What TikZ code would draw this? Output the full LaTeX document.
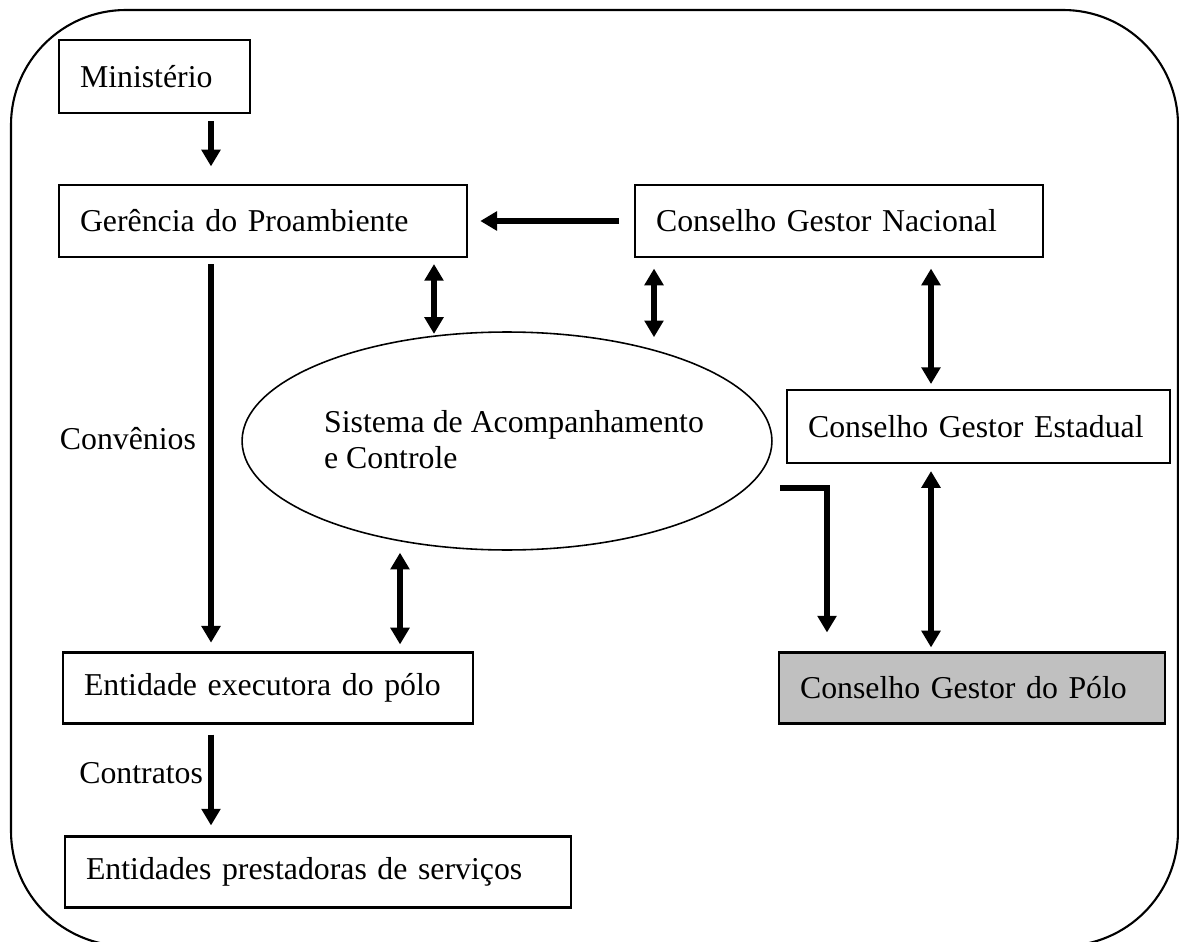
\documentclass[tikz,border=0pt]{standalone}
\usepackage{fontspec}
\setmainfont{Liberation Serif}
\usepackage{xcolor}
\usetikzlibrary{arrows.meta,calc,positioning,shapes}
\definecolor{poloGray}{RGB}{192,192,192}

\begin{document}
\begin{tikzpicture}[x=0.02cm,y=-0.02cm,font=\fontsize{18.1}{20.5}\selectfont]

\tikzset{box/.style = {shape=rectangle,draw,line width=1.2pt,align=left,inner xsep=0.42cm,inner ysep=0pt}}
\tikzset{sisbox/.style = {shape=ellipse,draw,line width=0.9pt,minimum width=10.6cm,minimum height=4.36cm}}
\tikzset{edge/.style = {-{Triangle[width=10.5pt,length=9.5pt]},line width=3.1pt}}
\tikzset{both/.style = {{Triangle[width=10.5pt,length=9.5pt]}-{Triangle[width=10.5pt,length=9.5pt]},line width=3.1pt}}

\useasboundingbox (0,0) rectangle (1179,942);
\clip (0,0) rectangle (1179,942);

% frame
\draw[line width=1.2pt,rounded corners=2.3cm] (11,10) rectangle (1178,946);

% boxes
\node[box,text width=2.98cm,minimum height=1.46cm] (min) at (154.5,76.5) {Ministério};
\node[box,text width=7.32cm,minimum height=1.44cm] (ger) at (263,221) {Gerência do Proambiente};
\node[box,text width=7.32cm,minimum height=1.44cm] (nac) at (839,221) {Conselho Gestor Nacional};
\node[box,text width=6.82cm,minimum height=1.46cm] (est) at (978.5,426.5) {Conselho Gestor Estadual};
\node[box,text width=6.88cm,minimum height=1.42cm,fill=poloGray] (polo) at (972,688) {Conselho Gestor do Pólo};
\node[box,text width=7.36cm,minimum height=1.42cm] (ent) at (268,688) {Entidade executora do pólo};
\node[box,text width=9.28cm,minimum height=1.42cm] (prest) at (318,872) {Entidades prestadoras de serviços};

% sistema
\node[sisbox] (sis) at (507,441) {};
\node[align=left] (sistxt) at (514,440) {Sistema de Acompanhamento\\e Controle};

% arrow columns
\coordinate (xa) at (211,0);
\coordinate (xb) at (434,0);
\coordinate (xc) at (654,0);
\coordinate (xd) at (931,0);
\coordinate (xe) at (400,0);
\coordinate (xf) at (827,0);
\coordinate (sisout) at (780,488);

%edges
\draw[edge,shorten <=4pt,shorten >=10pt] (xa |- min.south) -- (xa |- ger.north);
\draw[edge,shorten <=8.5pt,shorten >=7pt] (nac.west) -- (ger.east);
\draw[edge,shorten <=3.4pt,shorten >=5pt] (xa |- ger.south) -- node[left=7pt,inner sep=0pt,pos=0.46] {Convênios} (xa |- ent.north);
\draw[both,shorten <=3.4pt,shorten >=-1.5pt] (xb |- ger.south) -- (xb |- sis.north);
\draw[both,shorten <=6pt,shorten >=-3.4pt] (xc |- nac.south) -- (xc |- sis.north);
\draw[both,shorten <=6pt,shorten >=2.8pt] (xd |- nac.south) -- (xd |- est.north);
\draw[both,shorten <=4pt,shorten >=2.3pt] (xd |- est.south) -- (xd |- polo.north);
\draw[both,shorten <=1.1pt,shorten >=4pt] (xe |- sis.south) -- (xe |- ent.north);
\draw[edge,shorten >=10.8pt] (sisout) -| (xf |- polo.north);
\draw[edge,shorten <=5.7pt,shorten >=5.7pt] (xa |- ent.south) -- node[left=3pt,inner sep=0pt,pos=0.44] {Contratos} (xa |- prest.north);
\end{tikzpicture}
\end{document}
